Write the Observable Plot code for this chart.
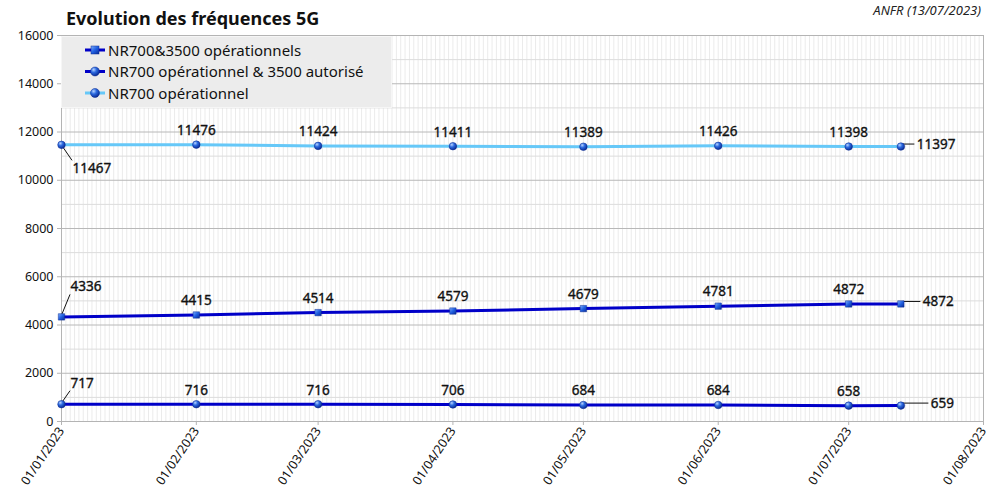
<!DOCTYPE html>
<html>
<head>
<meta charset="utf-8">
<script src="https://cdn.jsdelivr.net/npm/d3@7"></script>
<script src="https://cdn.jsdelivr.net/npm/@observablehq/plot@0.6"></script>
<style>
  html, body { margin: 0; padding: 0; background: #fff; }
  #wrap { position: relative; width: 1008px; height: 496px; font-family: "Noto Sans", sans-serif; }
  #title { position: absolute; left: 66px; top: 9px; font-size: 18px; font-weight: bold; line-height: 18px; color: #111; white-space: nowrap; }
  #credit { position: absolute; right: 27px; top: 4px; font-size: 13px; font-style: italic; line-height: 13px; color: #222; white-space: nowrap; }
  #legend { position: absolute; left: 61px; top: 36px; }
</style>
</head>
<body>
<div id="wrap">
  <div id="chart"></div>
  <div id="title">Evolution des fréquences 5G</div>
  <div id="credit">ANFR (13/07/2023)</div>
  <div id="legend"></div>
</div>
<script>
// ---- data ----
const dates = ["2023-01-01", "2023-02-01", "2023-03-01", "2023-04-01", "2023-05-01", "2023-06-01", "2023-07-01", "2023-07-13"];
const seriesNames = ["NR700&3500 opérationnels", "NR700 opérationnel & 3500 autorisé", "NR700 opérationnel"];
const nr700and3500 = [4336, 4415, 4514, 4579, 4679, 4781, 4872, 4872];
const nr700and3500aut = [717, 716, 716, 706, 684, 684, 658, 659];
const nr700 = [11467, 11476, 11424, 11411, 11389, 11426, 11398, 11397];
const yTicks = [0, 2000, 4000, 6000, 8000, 10000, 12000, 14000, 16000];
const xDomain = ["2023-01-01", "2023-08-01"];

// ---- styles ----
const seriesStyle = [
  { values: nr700and3500, color: "#0000c8", symbol: "square", first: [9, -30], last: [22, -2] },
  { values: nr700and3500aut, color: "#0000c8", symbol: "circle", first: [9, -21], last: [30, -2] },
  { values: nr700, color: "#66c8f8", symbol: "circle", first: [11, 24], last: [16, -2] }
];

const rows = seriesStyle.flatMap((s, si) => s.values.map((v, i) => ({
  series: seriesNames[si], si, i, date: new Date(dates[i]), v
})));
const n = dates.length;
const x0 = new Date(xDomain[0]), x1 = new Date(xDomain[1]);
const months = d3.utcMonths(x0, d3.utcDay.offset(x1, 1));
const days = d3.utcDays(x0, x1);

const labelStyle = { fontSize: 13.5, fill: "#111", stroke: "#111", strokeWidth: 0.35 };
const labelMarks = [];
seriesStyle.forEach((s, si) => {
  labelMarks.push(Plot.text(rows.filter(d => d.si === si && d.i === 0), {
    x: "date", y: "v", text: d => String(d.v), dx: s.first[0], dy: s.first[1],
    textAnchor: "start", ...labelStyle
  }));
  labelMarks.push(Plot.text(rows.filter(d => d.si === si && d.i === n - 1), {
    x: "date", y: "v", text: d => String(d.v), dx: s.last[0], dy: s.last[1],
    textAnchor: "start", ...labelStyle
  }));
});
labelMarks.push(Plot.text(rows.filter(d => d.i > 0 && d.i < n - 1), {
  x: "date", y: "v", text: d => String(d.v), dy: -14, ...labelStyle
}));

const plot = Plot.plot({
  width: 1008, height: 496,
  marginTop: 35, marginLeft: 61, marginRight: 25, marginBottom: 75,
  style: { fontFamily: "'Noto Sans', sans-serif", fontSize: "12.5px", color: "#111", background: "white" },
  x: { type: "utc", domain: [x0, x1] },
  y: { domain: [0, 16000] },
  marks: [
    Plot.ruleX(days, { stroke: "#ebebeb", strokeWidth: 1 }),
    Plot.ruleY(d3.range(1000, 16000, 2000), { stroke: "#dcdcdc" }),
    Plot.ruleY(yTicks, { stroke: "#b8b8b8" }),
    Plot.frame({ stroke: "#b4b4b4" }),
    Plot.axisY({ ticks: yTicks, tickSize: 4, tickPadding: 4, stroke: "#b4b4b4", label: null, tickFormat: d => String(d) }),
    Plot.axisX({ ticks: months, tickFormat: d3.utcFormat("%d/%m/%Y"), tickRotate: -56, tickSize: 4, tickPadding: 3, stroke: "#b4b4b4", label: null }),
    ...seriesStyle.map((s, si) => Plot.line(rows.filter(d => d.si === si), {
      x: "date", y: "v", stroke: s.color, strokeWidth: 3
    })),
    ...seriesStyle.map((s, si) => Plot.dot(rows.filter(d => d.si === si), {
      x: "date", y: "v", symbol: s.symbol, r: s.symbol === "square" ? 3.6 : 3.8,
      fill: s.symbol === "square" ? "url(#cube)" : "url(#sph)", stroke: "#0a2a90", strokeWidth: 0.5
    })),
    ...labelMarks
  ]
});

const svg = d3.select(plot);
function addDefs(sel) {
  const defs = sel.insert("defs", ":first-child");
  const g = defs.append("radialGradient").attr("id", "sph").attr("cx", "35%").attr("cy", "30%").attr("r", "70%");
  g.append("stop").attr("offset", "0%").attr("stop-color", "#b8d4ff");
  g.append("stop").attr("offset", "45%").attr("stop-color", "#2c6ae0");
  g.append("stop").attr("offset", "100%").attr("stop-color", "#0b2c96");
  const c = defs.append("linearGradient").attr("id", "cube").attr("x1", "0").attr("y1", "0").attr("x2", "1").attr("y2", "1");
  c.append("stop").attr("offset", "0%").attr("stop-color", "#7fb0ff");
  c.append("stop").attr("offset", "50%").attr("stop-color", "#1f5ee0");
  c.append("stop").attr("offset", "100%").attr("stop-color", "#0a2c96");
}
addDefs(svg);

// leader lines for first/last labels, positioned via the plot's scales
const sx = plot.scale("x"), sy = plot.scale("y");
const leaders = svg.append("g").attr("stroke", "#111").attr("stroke-width", 1);
seriesStyle.forEach((s) => {
  const px = sx.apply(new Date(dates[0])), py = sy.apply(s.values[0]);
  const ty = py + s.first[1];
  leaders.append("line").attr("x1", px).attr("y1", py)
    .attr("x2", px + s.first[0]).attr("y2", ty - Math.sign(s.first[1]) * 8);
  const qx = sx.apply(new Date(dates[n - 1])), qy = sy.apply(s.values[n - 1]);
  const ly = qy + s.last[1];
  leaders.append("line").attr("x1", qx + 2).attr("y1", ly).attr("x2", qx + s.last[0] - 2).attr("y2", ly);
});
svg.selectAll("g[aria-label='dot']").raise();
svg.selectAll("g[aria-label='text']").raise();

document.getElementById("chart").appendChild(plot);

// legend
const lg = d3.select("#legend").append("svg").attr("width", 331).attr("height", 72);
addDefs(lg);
lg.append("rect").attr("x", 0.5).attr("y", 0.5).attr("width", 330).attr("height", 71)
  .attr("fill", "#ececec").attr("stroke", "#f6f6f6");
seriesStyle.forEach((s, si) => {
  const cy = 14 + si * 21.5;
  lg.append("line").attr("x1", 24).attr("x2", 44).attr("y1", cy).attr("y2", cy)
    .attr("stroke", s.color).attr("stroke-width", 3);
  if (s.symbol === "square") {
    lg.append("rect").attr("x", 30).attr("y", cy - 4).attr("width", 8).attr("height", 8)
      .attr("fill", "url(#cube)").attr("stroke", "#0a2a90").attr("stroke-width", 0.5);
  } else {
    lg.append("circle").attr("cx", 34).attr("cy", cy).attr("r", 4.5)
      .attr("fill", "url(#sph)").attr("stroke", "#0a2a90").attr("stroke-width", 0.5);
  }
  lg.append("text").attr("x", 47).attr("y", cy + 5.5).text(seriesNames[si])
    .attr("font-family", "'Noto Sans', sans-serif").attr("font-size", 15).attr("fill", "#111");
});
</script>
</body>
</html>
